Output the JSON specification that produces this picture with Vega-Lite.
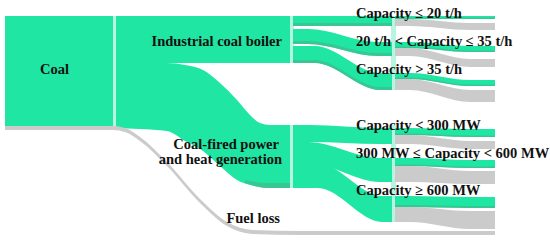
{
  "$schema": "https://vega.github.io/schema/vega-lite/v6.json",
  "width": 550,
  "height": 242,
  "autosize": {"type": "fit", "contains": "padding"},
  "padding": 0,
  "background": "white",
  "config": {"view": {"stroke": null}},
  "datasets": {
    "shapes": [
      {"id": "sep1", "k": "l", "x": 112, "top": 16, "bot": 129},
      {"id": "sep1", "k": "l", "x": 117, "top": 16, "bot": 129},
      {"id": "sep2", "k": "l", "x": 289, "top": 16, "bot": 63},
      {"id": "sep2", "k": "l", "x": 294, "top": 16, "bot": 63},
      {"id": "sep3", "k": "l", "x": 289, "top": 125, "bot": 188},
      {"id": "sep3", "k": "l", "x": 294, "top": 125, "bot": 188},
      {"id": "sep4", "k": "l", "x": 391, "top": 16, "bot": 90},
      {"id": "sep4", "k": "l", "x": 396, "top": 16, "bot": 90},
      {"id": "sep5", "k": "l", "x": 391, "top": 125, "bot": 222},
      {"id": "sep5", "k": "l", "x": 396, "top": 125, "bot": 222},
      {"id": "coal", "k": "g", "x": 5, "top": 16, "bot": 126},
      {"id": "coal", "k": "g", "x": 113, "top": 16, "bot": 126},
      {"id": "coalLoss", "k": "s", "x": 5, "top": 126, "bot": 130},
      {"id": "coalLoss", "k": "s", "x": 113, "top": 126, "bot": 130},
      {"id": "boiler", "k": "g", "x": 116, "top": 16, "bot": 63},
      {"id": "boiler", "k": "g", "x": 290, "top": 16, "bot": 63},
      {"id": "power", "k": "g", "x": 116, "top": 63, "bot": 128},
      {"id": "power", "k": "g", "x": 140, "top": 63, "bot": 129},
      {"id": "power", "k": "g", "x": 167, "top": 63, "bot": 131},
      {"id": "power", "k": "g", "x": 185, "top": 65, "bot": 141},
      {"id": "power", "k": "g", "x": 203, "top": 70, "bot": 151},
      {"id": "power", "k": "g", "x": 220, "top": 83, "bot": 166},
      {"id": "power", "k": "g", "x": 237, "top": 100, "bot": 180},
      {"id": "power", "k": "g", "x": 250, "top": 115, "bot": 185},
      {"id": "power", "k": "g", "x": 260, "top": 123, "bot": 187},
      {"id": "power", "k": "g", "x": 270, "top": 125, "bot": 188},
      {"id": "power", "k": "g", "x": 290, "top": 125, "bot": 188},
      {"id": "fuelLoss", "k": "s", "x": 113, "top": 126, "bot": 130},
      {"id": "fuelLoss", "k": "s", "x": 125, "top": 128, "bot": 132},
      {"id": "fuelLoss", "k": "s", "x": 140, "top": 137, "bot": 141},
      {"id": "fuelLoss", "k": "s", "x": 167, "top": 162, "bot": 166},
      {"id": "fuelLoss", "k": "s", "x": 200, "top": 199, "bot": 203},
      {"id": "fuelLoss", "k": "s", "x": 227, "top": 222, "bot": 226},
      {"id": "fuelLoss", "k": "s", "x": 253, "top": 230, "bot": 234},
      {"id": "fuelLoss", "k": "s", "x": 300, "top": 231, "bot": 235},
      {"id": "fuelLoss", "k": "s", "x": 495, "top": 231, "bot": 235},
      {"id": "A", "k": "g", "x": 293, "top": 16, "bot": 26},
      {"id": "A", "k": "g", "x": 392, "top": 16, "bot": 26},
      {"id": "B", "k": "g", "x": 293, "top": 29, "bot": 44},
      {"id": "B", "k": "g", "x": 308, "top": 29, "bot": 44},
      {"id": "B", "k": "g", "x": 378, "top": 42, "bot": 56},
      {"id": "B", "k": "g", "x": 392, "top": 42, "bot": 56},
      {"id": "C", "k": "g", "x": 293, "top": 46, "bot": 63},
      {"id": "C", "k": "g", "x": 315, "top": 46, "bot": 63},
      {"id": "C", "k": "g", "x": 380, "top": 73, "bot": 90},
      {"id": "C", "k": "g", "x": 392, "top": 73, "bot": 90},
      {"id": "D", "k": "g", "x": 293, "top": 125, "bot": 142},
      {"id": "D", "k": "g", "x": 310, "top": 125, "bot": 142},
      {"id": "D", "k": "g", "x": 380, "top": 128, "bot": 144},
      {"id": "D", "k": "g", "x": 392, "top": 128, "bot": 144},
      {"id": "E", "k": "g", "x": 293, "top": 142, "bot": 163},
      {"id": "E", "k": "g", "x": 308, "top": 142, "bot": 163},
      {"id": "E", "k": "g", "x": 380, "top": 158, "bot": 182},
      {"id": "E", "k": "g", "x": 392, "top": 158, "bot": 182},
      {"id": "F", "k": "g", "x": 293, "top": 163, "bot": 188},
      {"id": "F", "k": "g", "x": 318, "top": 163, "bot": 188},
      {"id": "F", "k": "g", "x": 382, "top": 196, "bot": 222},
      {"id": "F", "k": "g", "x": 392, "top": 196, "bot": 222},
      {"id": "Ag", "k": "g", "x": 395, "top": 16, "bot": 19},
      {"id": "Ag", "k": "g", "x": 495, "top": 16, "bot": 19},
      {"id": "As", "k": "s", "x": 395, "top": 19, "bot": 26},
      {"id": "As", "k": "s", "x": 410, "top": 19, "bot": 26},
      {"id": "As", "k": "s", "x": 470, "top": 23, "bot": 30},
      {"id": "As", "k": "s", "x": 495, "top": 23, "bot": 30},
      {"id": "Bg", "k": "g", "x": 395, "top": 42, "bot": 48},
      {"id": "Bg", "k": "g", "x": 410, "top": 42, "bot": 48},
      {"id": "Bg", "k": "g", "x": 470, "top": 46, "bot": 52},
      {"id": "Bg", "k": "g", "x": 495, "top": 46, "bot": 52},
      {"id": "Bs", "k": "s", "x": 395, "top": 48, "bot": 56},
      {"id": "Bs", "k": "s", "x": 410, "top": 48, "bot": 56},
      {"id": "Bs", "k": "s", "x": 470, "top": 59, "bot": 67},
      {"id": "Bs", "k": "s", "x": 495, "top": 59, "bot": 67},
      {"id": "Cg", "k": "g", "x": 395, "top": 73, "bot": 79},
      {"id": "Cg", "k": "g", "x": 410, "top": 73, "bot": 79},
      {"id": "Cg", "k": "g", "x": 470, "top": 80, "bot": 86},
      {"id": "Cg", "k": "g", "x": 495, "top": 80, "bot": 86},
      {"id": "Cs", "k": "s", "x": 395, "top": 79, "bot": 90},
      {"id": "Cs", "k": "s", "x": 410, "top": 79, "bot": 90},
      {"id": "Cs", "k": "s", "x": 470, "top": 90, "bot": 102},
      {"id": "Cs", "k": "s", "x": 495, "top": 90, "bot": 102},
      {"id": "Dg", "k": "g", "x": 395, "top": 128, "bot": 135},
      {"id": "Dg", "k": "g", "x": 410, "top": 128, "bot": 135},
      {"id": "Dg", "k": "g", "x": 470, "top": 129, "bot": 137},
      {"id": "Dg", "k": "g", "x": 495, "top": 129, "bot": 137},
      {"id": "Ds", "k": "s", "x": 395, "top": 135, "bot": 144},
      {"id": "Ds", "k": "s", "x": 410, "top": 135, "bot": 144},
      {"id": "Ds", "k": "s", "x": 470, "top": 141, "bot": 149},
      {"id": "Ds", "k": "s", "x": 495, "top": 141, "bot": 149},
      {"id": "Eg", "k": "g", "x": 395, "top": 158, "bot": 166},
      {"id": "Eg", "k": "g", "x": 410, "top": 158, "bot": 166},
      {"id": "Eg", "k": "g", "x": 470, "top": 160, "bot": 168},
      {"id": "Eg", "k": "g", "x": 495, "top": 160, "bot": 168},
      {"id": "Es", "k": "s", "x": 395, "top": 166, "bot": 182},
      {"id": "Es", "k": "s", "x": 410, "top": 166, "bot": 182},
      {"id": "Es", "k": "s", "x": 470, "top": 171, "bot": 184},
      {"id": "Es", "k": "s", "x": 495, "top": 171, "bot": 184},
      {"id": "Fg", "k": "g", "x": 395, "top": 196, "bot": 207},
      {"id": "Fg", "k": "g", "x": 410, "top": 196, "bot": 207},
      {"id": "Fg", "k": "g", "x": 470, "top": 197, "bot": 208},
      {"id": "Fg", "k": "g", "x": 495, "top": 197, "bot": 208},
      {"id": "Fs", "k": "s", "x": 395, "top": 207, "bot": 222},
      {"id": "Fs", "k": "s", "x": 410, "top": 207, "bot": 222},
      {"id": "Fs", "k": "s", "x": 470, "top": 211, "bot": 229},
      {"id": "Fs", "k": "s", "x": 495, "top": 211, "bot": 229}
    ],
    "shadows": [
      {"id": "pw", "x": 245, "top": 180, "bot": 183},
      {"id": "pw", "x": 255, "top": 182, "bot": 186},
      {"id": "pw", "x": 265, "top": 183, "bot": 188},
      {"id": "pw", "x": 290, "top": 183, "bot": 188},
      {"id": "A", "x": 293, "top": 23, "bot": 26},
      {"id": "A", "x": 392, "top": 23, "bot": 26},
      {"id": "B", "x": 293, "top": 41, "bot": 44},
      {"id": "B", "x": 308, "top": 41, "bot": 44},
      {"id": "B", "x": 378, "top": 53, "bot": 56},
      {"id": "B", "x": 392, "top": 53, "bot": 56},
      {"id": "C", "x": 293, "top": 60, "bot": 63},
      {"id": "C", "x": 315, "top": 60, "bot": 63},
      {"id": "C", "x": 380, "top": 87, "bot": 90},
      {"id": "C", "x": 392, "top": 87, "bot": 90},
      {"id": "Ag", "x": 395, "top": 17.5, "bot": 19},
      {"id": "Ag", "x": 495, "top": 17.5, "bot": 19},
      {"id": "Bg", "x": 395, "top": 46.5, "bot": 48},
      {"id": "Bg", "x": 410, "top": 46.5, "bot": 48},
      {"id": "Bg", "x": 470, "top": 50.5, "bot": 52},
      {"id": "Bg", "x": 495, "top": 50.5, "bot": 52},
      {"id": "Cg", "x": 395, "top": 77.5, "bot": 79},
      {"id": "Cg", "x": 410, "top": 77.5, "bot": 79},
      {"id": "Cg", "x": 470, "top": 84.5, "bot": 86},
      {"id": "Cg", "x": 495, "top": 84.5, "bot": 86},
      {"id": "Dg", "x": 395, "top": 133.5, "bot": 135},
      {"id": "Dg", "x": 410, "top": 133.5, "bot": 135},
      {"id": "Dg", "x": 470, "top": 135.5, "bot": 137},
      {"id": "Dg", "x": 495, "top": 135.5, "bot": 137},
      {"id": "Eg", "x": 395, "top": 164.5, "bot": 166},
      {"id": "Eg", "x": 410, "top": 164.5, "bot": 166},
      {"id": "Eg", "x": 470, "top": 166.5, "bot": 168},
      {"id": "Eg", "x": 495, "top": 166.5, "bot": 168},
      {"id": "Fg", "x": 395, "top": 205, "bot": 207},
      {"id": "Fg", "x": 410, "top": 205, "bot": 207},
      {"id": "Fg", "x": 470, "top": 206, "bot": 208},
      {"id": "Fg", "x": 495, "top": 206, "bot": 208}
    ],
    "labelsLeft": [
      {"x": 40, "y": 70, "t": "Coal"},
      {"x": 356, "y": 14, "t": "Capacity ≤ 20 t/h"},
      {"x": 356, "y": 42, "t": "20 t/h < Capacity ≤ 35 t/h"},
      {"x": 356, "y": 70, "t": "Capacity > 35 t/h"},
      {"x": 356, "y": 126, "t": "Capacity < 300 MW"},
      {"x": 356, "y": 154, "t": "300 MW ≤ Capacity < 600 MW"},
      {"x": 356, "y": 191, "t": "Capacity ≥ 600 MW"}
    ],
    "labelsRight": [
      {"x": 282, "y": 42, "t": "Industrial coal boiler"},
      {"x": 279, "y": 145, "t": "Coal-fired  power"},
      {"x": 282, "y": 160, "t": "and heat generation"},
      {"x": 280, "y": 219, "t": "Fuel loss"}
    ]
  },
  "layer": [
    {
      "data": {"name": "shapes"},
      "mark": {"type": "area", "interpolate": "monotone"},
      "encoding": {
        "x": {"field": "x", "type": "quantitative", "scale": {"domain": [0, 550], "nice": false, "zero": false}, "axis": null},
        "y": {"field": "top", "type": "quantitative", "scale": {"domain": [0, 242], "reverse": true, "nice": false, "zero": false}, "axis": null},
        "y2": {"field": "bot"},
        "color": {"field": "k", "type": "nominal", "scale": {"domain": ["g", "s", "l"], "range": ["#1fe6a2", "#cbcbcb", "#b8f4e2"]}, "legend": null},
        "detail": {"field": "id"}
      }
    },
    {
      "data": {"name": "shadows"},
      "mark": {"type": "area", "interpolate": "monotone", "color": "#3fbf90", "opacity": 0.8},
      "encoding": {
        "x": {"field": "x", "type": "quantitative"},
        "y": {"field": "top", "type": "quantitative"},
        "y2": {"field": "bot"},
        "detail": {"field": "id"}
      }
    },
    {
      "data": {"name": "labelsLeft"},
      "mark": {"type": "text", "align": "left", "baseline": "middle", "font": "Liberation Serif", "fontWeight": "bold", "fontSize": 14.5, "color": "#111111"},
      "encoding": {
        "x": {"field": "x", "type": "quantitative"},
        "y": {"field": "y", "type": "quantitative"},
        "text": {"field": "t"}
      }
    },
    {
      "data": {"name": "labelsRight"},
      "mark": {"type": "text", "align": "right", "baseline": "middle", "font": "Liberation Serif", "fontWeight": "bold", "fontSize": 14.5, "color": "#111111"},
      "encoding": {
        "x": {"field": "x", "type": "quantitative"},
        "y": {"field": "y", "type": "quantitative"},
        "text": {"field": "t"}
      }
    }
  ]
}
